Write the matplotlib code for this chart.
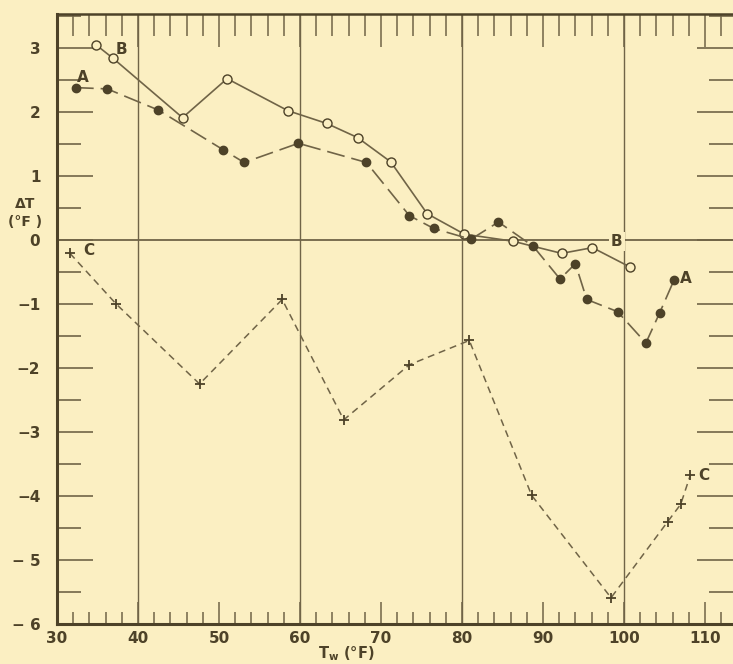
import matplotlib
matplotlib.use("Agg")
import matplotlib.pyplot as plt
from matplotlib.ticker import MultipleLocator, FixedLocator

# ---- data ----
a_x = [32.3, 36.2, 42.5, 50.5, 53.1, 59.8, 68.2, 73.5, 76.5, 81.1, 84.5, 88.8, 92.1, 94.0, 95.4, 99.2, 102.7, 104.4, 106.2]
a_y = [2.38, 2.36, 2.03, 1.41, 1.21, 1.51, 1.21, 0.38, 0.18, 0.01, 0.28, -0.10, -0.61, -0.37, -0.93, -1.12, -1.61, -1.14, -0.62]

b_x = [34.8, 36.9, 45.5, 51.0, 58.5, 63.3, 67.1, 71.2, 75.7, 80.3, 86.3, 92.3, 96.1, 100.7]
b_y = [3.05, 2.84, 1.91, 2.52, 2.02, 1.82, 1.60, 1.22, 0.41, 0.09, -0.02, -0.21, -0.12, -0.42]

c_x = [31.6, 37.3, 47.6, 57.8, 65.4, 73.5, 80.9, 88.6, 98.4, 105.4, 107.0, 108.2]
c_y = [-0.21, -1.00, -2.25, -0.93, -2.81, -1.95, -1.57, -3.99, -5.59, -4.40, -4.13, -3.67]

x_ticks = [30, 40, 50, 60, 70, 80, 90, 100, 110]
y_ticks = [3, 2, 1, 0, -1, -2, -3, -4, -5, -6]
y_tick_labels = ["3", "2", "1", "0", "\u22121", "\u22122", "\u22123", "\u22124", "\u2212 5", "\u2212 6"]
grid_x = [40, 60, 80, 100]

BG = "#fbefc2"
INK = "#4d4228"
LINE = "#706447"

plt.rcParams["lines.scale_dashes"] = False
plt.rcParams["font.family"] = ["DejaVu Sans"]

fig = plt.figure(figsize=(7.33, 6.64), dpi=100, facecolor=BG)
L, R, B, T = 57 / 733, 1.0, 40 / 664, 650 / 664
ax = fig.add_axes([L, B, R - L, T - B], facecolor=BG)
ax.set_xlim(30, 30 + (733 - 57) / 8.1)
ax.set_ylim(-6, 3.53)

# grid lines
for gx in grid_x:
    ax.axvline(gx, color=LINE, lw=1.0, zorder=1)
ax.axhline(0, color=LINE, lw=1.3, zorder=1)

# series
ax.plot(b_x, b_y, color=LINE, lw=1.2, marker="o", ms=6.5, mfc=BG, mec=INK, mew=1.0, zorder=3)
ax.plot(a_x, a_y, color=LINE, lw=1.2, dashes=(13, 5), marker="o", ms=6, mfc=INK, mec=INK, zorder=4)
ax.plot(c_x, c_y, color=LINE, lw=1.1, dashes=(5, 3.5), marker="+", ms=7, mec=INK, mew=1.3, zorder=4)

# series labels
lab = dict(color=INK, fontsize=11, fontweight="bold", zorder=6)
ax.text(33.2, 2.54, "A", ha="center", va="center", **lab)
ax.text(37.9, 2.98, "B", ha="center", va="center", **lab)
ax.text(107.6, -0.61, "A", ha="center", va="center", **lab)
ax.text(99.1, -0.02, "B", ha="center", va="center",
        bbox=dict(facecolor=BG, edgecolor="none", pad=1.5), **lab)
ax.text(33.9, -0.17, "C", ha="center", va="center", **lab)
ax.text(109.9, -3.68, "C", ha="center", va="center", **lab)

# spines
for s in ["left", "bottom"]:
    ax.spines[s].set_linewidth(2.2)
    ax.spines[s].set_color(INK)
ax.spines["top"].set_linewidth(1.8)
ax.spines["top"].set_color(INK)
ax.spines["right"].set_visible(False)

# x ticks bottom
ax.set_xticks(x_ticks)
ax.set_xticklabels([str(v) for v in x_ticks])
ax.xaxis.set_minor_locator(MultipleLocator(2))
ax.tick_params(axis="x", which="major", direction="in", length=16, width=1.1,
               color=LINE, labelsize=11, labelcolor=INK, pad=5, top=False)
ax.tick_params(axis="x", which="minor", direction="in", length=9, width=1.1,
               color=LINE, top=False)
for t in ax.get_xticklabels():
    t.set_fontweight("bold")

# x ticks top
top = ax.secondary_xaxis("top")
top.set_xticks(x_ticks)
top.xaxis.set_minor_locator(MultipleLocator(2))
top.tick_params(axis="x", which="major", direction="in", length=24, width=1.1,
                color=LINE, labeltop=False)
top.tick_params(axis="x", which="minor", direction="in", length=16, width=1.1,
                color=LINE)
top.spines["top"].set_visible(False)

# y ticks
ax.set_yticks(y_ticks)
ax.set_yticklabels(y_tick_labels)
ax.yaxis.set_minor_locator(MultipleLocator(0.5))
ax.tick_params(axis="y", which="major", direction="in", length=26, width=1.2,
               color=LINE, labelsize=11, labelcolor=INK, pad=12, right=True)
ax.tick_params(axis="y", which="minor", direction="in", length=17, width=1.2,
               color=LINE, right=True)
for t in ax.get_yticklabels():
    t.set_fontweight("bold")

# axis labels
ax.text(-0.047, 0.42, "\u0394T\n(\u00b0F )", transform=ax.get_yaxis_transform(),
        ha="center", va="center", color=INK, fontsize=10, fontweight="bold",
        linespacing=1.3)
ax.set_xlabel("T$_\\mathbf{w}$ (\u00b0F)", color=INK, fontsize=10.5, fontweight="bold")
ax.xaxis.set_label_coords(0.4275, -0.033)

fig.savefig("out.png", dpi=100, facecolor=BG)
